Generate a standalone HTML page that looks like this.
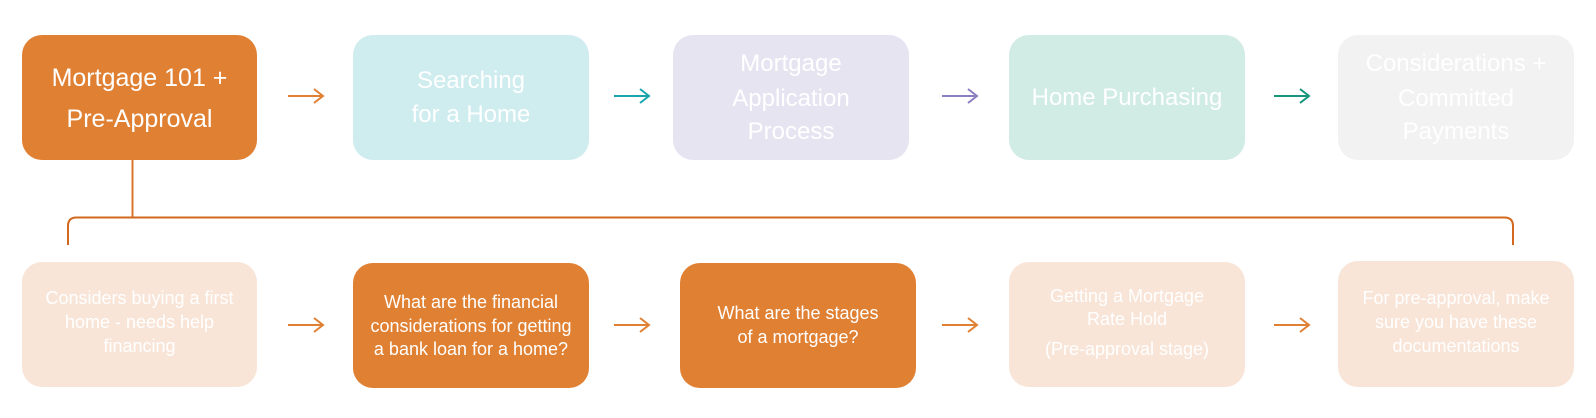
<!DOCTYPE html>
<html>
<head>
<meta charset="utf-8">
<style>
html,body{margin:0;padding:0;background:#ffffff;}
#c{position:relative;width:1596px;height:418px;overflow:hidden;background:#fff;font-family:"Liberation Sans",sans-serif;}
.b{position:absolute;border-radius:20px;}
.t{position:absolute;text-align:center;color:#ffffff;white-space:nowrap;height:30px;line-height:30px;}
.s24{font-size:24px;}
.s25{font-size:25px;}
.s18{font-size:18px;}
svg{position:absolute;left:0;top:0;}
</style>
</head>
<body>
<div id="c">
<!-- top row boxes -->
<div class="b" style="left:22px;top:35px;width:235px;height:125px;background:#E08033;"></div>
<div class="b" style="left:353px;top:35px;width:236px;height:125px;background:#CFECEE;"></div>
<div class="b" style="left:673px;top:35px;width:236px;height:125px;background:#E6E4F1;"></div>
<div class="b" style="left:1009px;top:35px;width:236px;height:125px;background:#D1EBE5;"></div>
<div class="b" style="left:1338px;top:35px;width:236px;height:125px;background:#F2F2F2;"></div>

<!-- bottom row boxes -->
<div class="b" style="left:22px;top:262px;width:235px;height:125px;background:#F8E5D8;"></div>
<div class="b" style="left:353px;top:263px;width:236px;height:125px;background:#E08033;"></div>
<div class="b" style="left:680px;top:263px;width:236px;height:125px;background:#E08033;"></div>
<div class="b" style="left:1009px;top:262px;width:236px;height:125px;background:#F8E5D8;"></div>
<div class="b" style="left:1338px;top:261px;width:236px;height:126px;background:#F8E5D8;"></div>

<!-- top texts -->
<div class="t s25" style="left:22px;width:235px;top:63px;">Mortgage 101 +</div>
<div class="t s25" style="left:22px;width:235px;top:104px;">Pre-Approval</div>

<div class="t s24" style="left:353px;width:236px;top:66px;">Searching</div>
<div class="t s24" style="left:353px;width:236px;top:100px;">for a Home</div>

<div class="t s24" style="left:673px;width:236px;top:49px;">Mortgage</div>
<div class="t s24" style="left:673px;width:236px;top:84px;">Application</div>
<div class="t s24" style="left:673px;width:236px;top:117px;">Process</div>

<div class="t s24" style="left:1009px;width:236px;top:83px;">Home Purchasing</div>

<div class="t s24" style="left:1338px;width:236px;top:49px;">Considerations +</div>
<div class="t s24" style="left:1338px;width:236px;top:84px;">Committed</div>
<div class="t s24" style="left:1338px;width:236px;top:117px;">Payments</div>

<!-- bottom texts -->
<div class="t s18" style="left:22px;width:235px;top:283px;">Considers buying a first</div>
<div class="t s18" style="left:22px;width:235px;top:307px;">home - needs help</div>
<div class="t s18" style="left:22px;width:235px;top:331px;">financing</div>

<div class="t s18" style="left:353px;width:236px;top:287px;">What are the financial</div>
<div class="t s18" style="left:353px;width:236px;top:311px;">considerations for getting</div>
<div class="t s18" style="left:353px;width:236px;top:334px;">a bank loan for a home?</div>

<div class="t s18" style="left:680px;width:236px;top:298px;">What are the stages</div>
<div class="t s18" style="left:680px;width:236px;top:322px;">of a mortgage?</div>

<div class="t s18" style="left:1009px;width:236px;top:281px;">Getting a Mortgage</div>
<div class="t s18" style="left:1009px;width:236px;top:304px;">Rate Hold</div>
<div class="t s18" style="left:1009px;width:236px;top:334px;">(Pre-approval stage)</div>

<div class="t s18" style="left:1338px;width:236px;top:283px;">For pre-approval, make</div>
<div class="t s18" style="left:1338px;width:236px;top:307px;">sure you have these</div>
<div class="t s18" style="left:1338px;width:236px;top:331px;">documentations</div>

<svg width="1596" height="418" viewBox="0 0 1596 418">
  <g fill="none" stroke-width="2" stroke-linecap="butt" stroke-linejoin="miter">
    <!-- connector -->
    <path d="M132.5 160 V217.5" stroke="#DA7428"/>
    <path d="M68 245 V226 Q68 217.5 76.5 217.5 H1504.5 Q1513 217.5 1513 226 V245" stroke="#D2691E"/>
    <!-- top arrows -->
    <path d="M288 96 H323 M314 89 L323 96 L314 103" stroke="#E08033"/>
    <path d="M614 96 H649 M640 89 L649 96 L640 103" stroke="#1AA6AC"/>
    <path d="M942 96 H977 M968 89 L977 96 L968 103" stroke="#8C7FC1"/>
    <path d="M1274 96 H1309 M1300 89 L1309 96 L1300 103" stroke="#17967C"/>
    <!-- bottom arrows -->
    <path d="M288 325 H323 M314 318 L323 325 L314 332" stroke="#E08033"/>
    <path d="M614 325 H649 M640 318 L649 325 L640 332" stroke="#E08033"/>
    <path d="M942 325 H977 M968 318 L977 325 L968 332" stroke="#E08033"/>
    <path d="M1274 325 H1309 M1300 318 L1309 325 L1300 332" stroke="#E08033"/>
  </g>
</svg>
</div>
</body>
</html>
